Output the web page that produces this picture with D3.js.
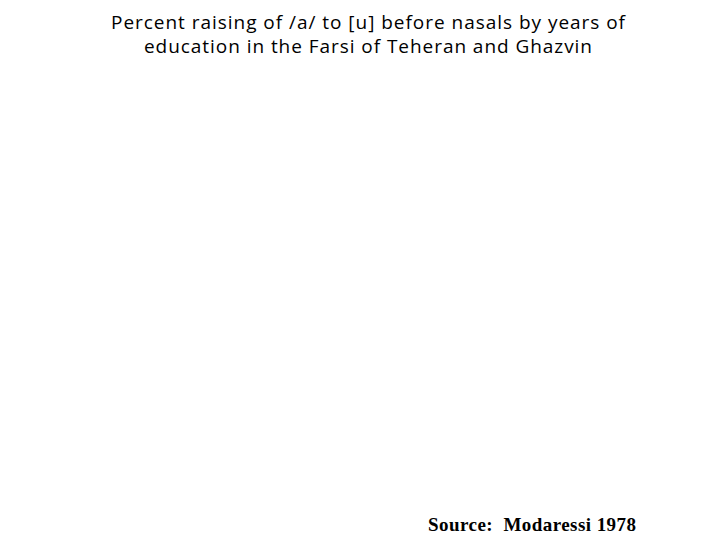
<!DOCTYPE html>
<html>
<head>
<meta charset="utf-8">
<script src="https://cdn.jsdelivr.net/npm/d3@7"></script>
<style>
html,body{margin:0;padding:0;background:#fff;}
svg{display:block;}
</style>
</head>
<body>
<svg id="chart" width="720" height="540"></svg>
<script>
const titleLines = [
  "Percent raising of /a/ to [u] before nasals by years of",
  "education in the Farsi of Teheran and Ghazvin"
];
const titleWidths = [514, 448];
const sourceText = "Source:  Modaressi 1978";

const svg = d3.select("#chart");
svg.append("rect").attr("width", 720).attr("height", 540).attr("fill", "#fff");

const title = svg.append("text")
  .attr("class", "title")
  .attr("text-anchor", "middle")
  .attr("font-family", "'Open Sans', 'DejaVu Sans', sans-serif")
  .attr("font-size", 19)
  .attr("fill", "#000");

title.selectAll("tspan")
  .data(titleLines)
  .join("tspan")
  .attr("x", 368)
  .attr("y", (d, i) => 29 + i * 24)
  .attr("textLength", (d, i) => titleWidths[i])
  .attr("lengthAdjust", "spacing")
  .text(d => d);

svg.append("text")
  .attr("x", 428)
  .attr("y", 531)
  .attr("text-anchor", "start")
  .attr("font-family", "'Liberation Serif', 'Times New Roman', serif")
  .attr("font-weight", "bold")
  .attr("font-size", 19)
  .attr("fill", "#000")
  .attr("xml:space", "preserve")
  .style("white-space", "pre")
  .attr("textLength", 208)
  .attr("lengthAdjust", "spacing")
  .text(sourceText);
</script>
</body>
</html>
